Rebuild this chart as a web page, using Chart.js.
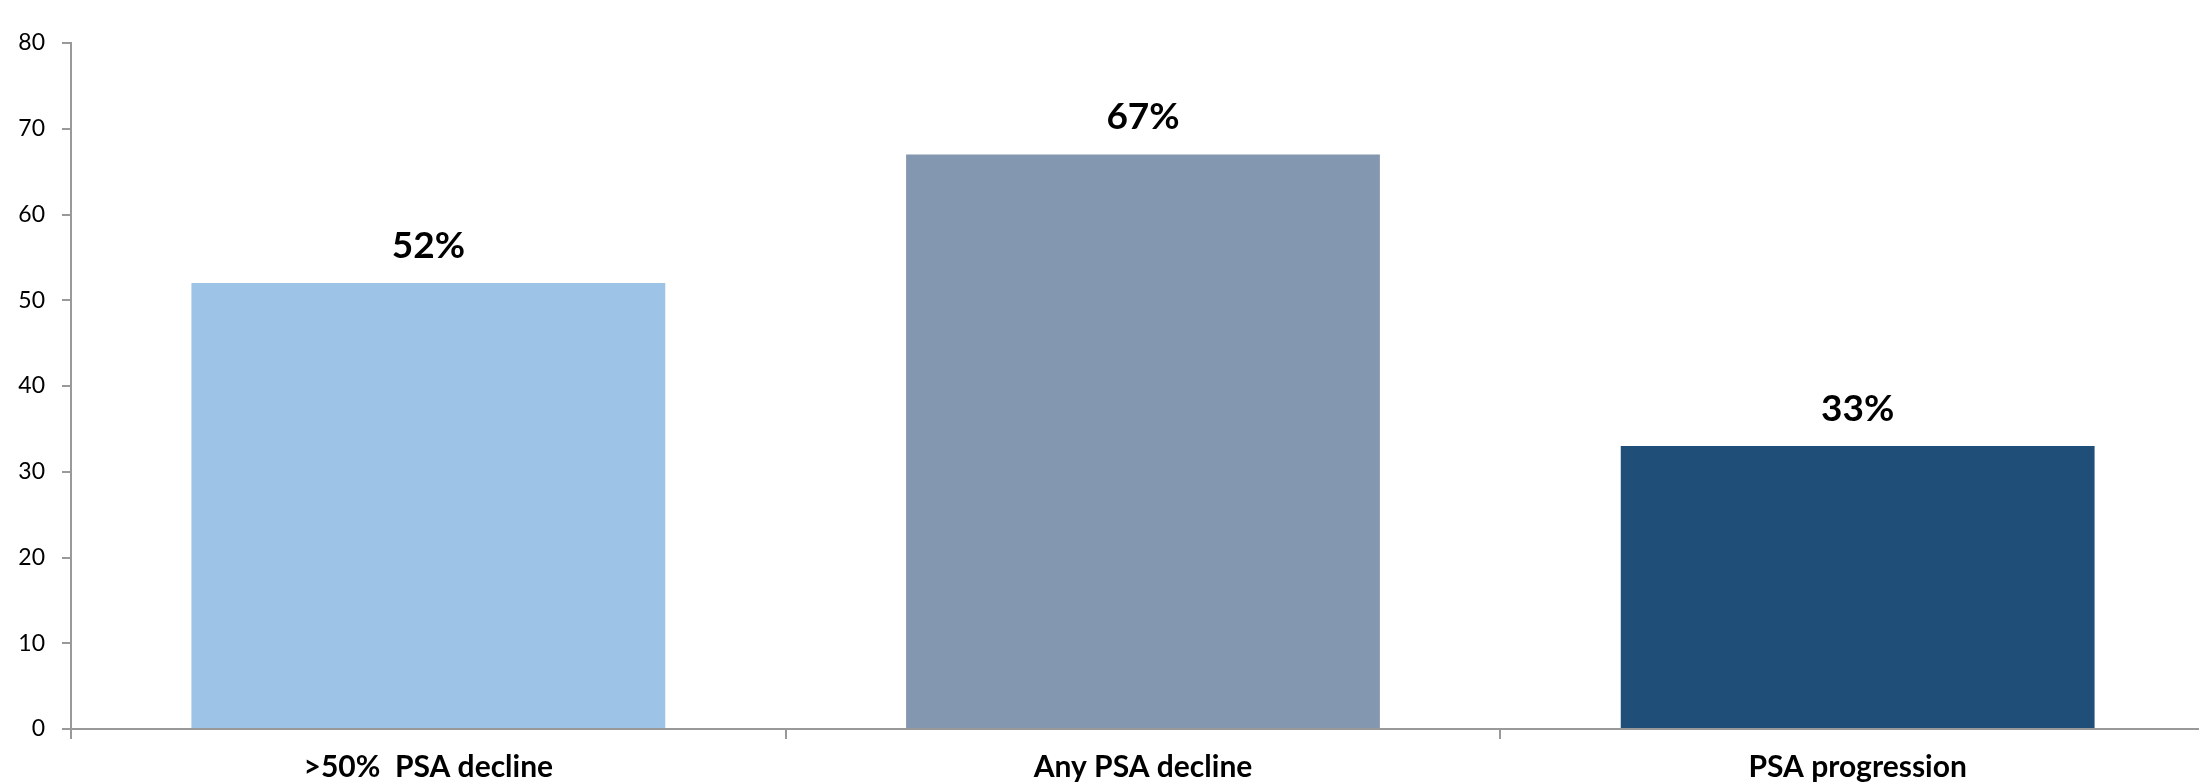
<!DOCTYPE html>
<html>
<head>
<meta charset="utf-8">
<script src="https://cdn.jsdelivr.net/npm/chart.js@4/dist/chart.umd.min.js"></script>
<style>
  html, body { margin: 0; padding: 0; background: #fff; overflow: hidden; }
  canvas { display: block; }
</style>
</head>
<body>
<canvas id="psa-chart" width="2216" height="783"></canvas>
<script>
// ============================================================================
// DATA
// ============================================================================

const categories = ['>50%  PSA decline', 'Any PSA decline', 'PSA progression'];
const values = [52, 67, 33];
const valueLabels = ['52%', '67%', '33%'];
const yTicks = [0, 10, 20, 30, 40, 50, 60, 70, 80];

const barColors = ['#9DC3E6', '#8497B0', '#1F4E79'];
const axisColor = '#999999';

// Draws the bold percentage above each bar
const barLabels = {
    id: 'barLabels',
    afterDatasetsDraw(chart) {
        const ctx = chart.ctx;
        const meta = chart.getDatasetMeta(0);
        ctx.save();
        ctx.font = 'bold 37px Lato';
        ctx.fillStyle = '#000';
        ctx.textAlign = 'center';
        ctx.textBaseline = 'alphabetic';
        meta.data.forEach((bar, i) => {
            ctx.fillText(valueLabels[i], bar.x, bar.y - 25);
        });
        ctx.restore();
    }
};

const chart = new Chart(document.getElementById('psa-chart').getContext('2d'), {
    type: 'bar',
    data: {
        labels: categories,
        datasets: [{
            data: values,
            backgroundColor: barColors,
            borderWidth: 0,
            barPercentage: 0.663,
            categoryPercentage: 1
        }]
    },
    options: {
        responsive: false,
        animation: false,
        layout: { padding: { top: 43, right: 1, left: 0, bottom: 0 } },
        plugins: {
            legend: { display: false },
            tooltip: { enabled: false }
        },
        scales: {
            x: {
                grid: {
                    offset: true,
                    drawOnChartArea: false,
                    drawTicks: true,
                    tickLength: 10,
                    color: axisColor,
                    lineWidth: 2
                },
                border: { display: true, color: axisColor, width: 2 },
                ticks: {
                    color: '#000',
                    padding: 10,
                    font: { family: 'Lato', size: 30, weight: 'bold' }
                },
                afterFit: (s) => { s.height = 54; }
            },
            y: {
                min: 0,
                max: 80,
                afterBuildTicks: (s) => { s.ticks = yTicks.map(v => ({ value: v })); },
                grid: {
                    drawOnChartArea: false,
                    drawTicks: true,
                    tickLength: 9,
                    color: axisColor,
                    lineWidth: 2
                },
                border: { display: true, color: axisColor, width: 2 },
                ticks: {
                    color: '#000',
                    padding: 17,
                    font: { family: 'Lato', size: 23 }
                },
                afterFit: (s) => { s.width = 71; }
            }
        }
    },
    plugins: [barLabels]
});
</script>
</body>
</html>
